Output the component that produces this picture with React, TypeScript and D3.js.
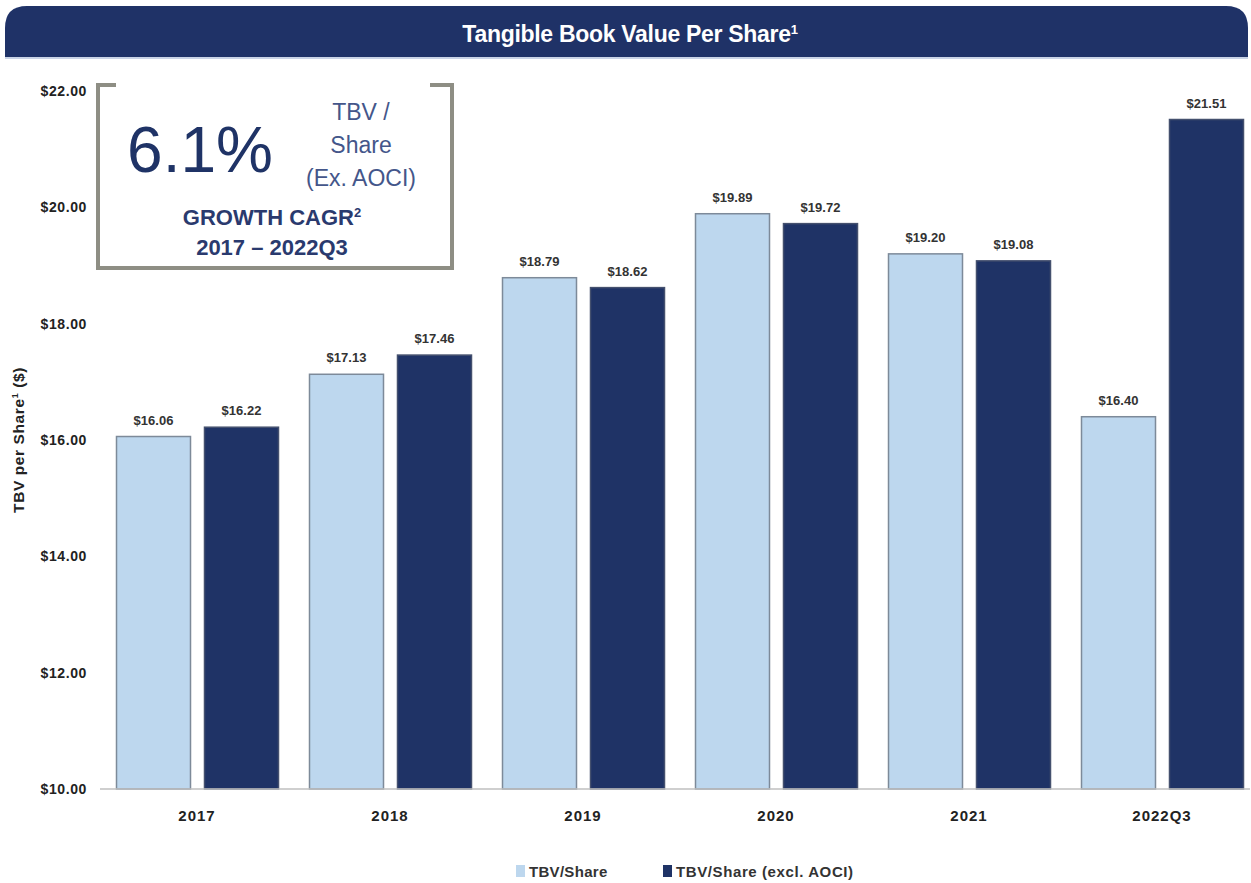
import React from "react";
import * as d3 from "d3";

const categories = ["2017", "2018", "2019", "2020", "2021", "2022Q3"];
const seriesNames = ["TBV/Share", "TBV/Share (excl. AOCI)"];
const tbvShare = [16.06, 17.13, 18.79, 19.89, 19.2, 16.4];
const tbvShareExAOCI = [16.22, 17.46, 18.62, 19.72, 19.08, 21.51];
const yTicks = [10, 12, 14, 16, 18, 20, 22];

const W = 1251;
const H = 883;
const LIGHT = "#bdd7ee";
const DARK = "#1f3366";
const NAVY = "#1f3267";
const narrow = "'Liberation Sans Narrow', 'Arial Narrow', 'Liberation Sans', Arial, sans-serif";
const sans = "'Liberation Sans', Arial, sans-serif";

export default function App() {
  const y = d3.scaleLinear().domain([10, 22]).range([789, 91]);
  const x0 = d3.scaleBand<string>().domain(categories).range([101.5, 1259.5]).paddingInner(0).paddingOuter(0);
  const x1 = d3.scaleBand<string>().domain(seriesNames).range([15, 177]).paddingInner(0.159).paddingOuter(0);
  const seriesValues = [tbvShare, tbvShareExAOCI];
  const colors = [LIGHT, DARK];
  const strokes = ["#7d8a99", "#44506e"];

  const r = 22;
  const hx0 = 5, hx1 = 1248, hy0 = 6, hy1 = 57;
  const headerPath = `M${hx0},${hy1} L${hx0},${hy0 + r} Q${hx0},${hy0} ${hx0 + r},${hy0} L${hx1 - r},${hy0} Q${hx1},${hy0} ${hx1},${hy0 + r} L${hx1},${hy1} Z`;

  return (
    <svg width={W} height={H} style={{ position: "absolute", left: 0, top: 0, background: "#fff" }}>
      <rect x={0} y={0} width={W} height={H} fill="#fff" />
      <path d={headerPath} fill={NAVY} />
      <line x1={hx0} x2={hx1} y1={hy1 + 1} y2={hy1 + 1} stroke="#c9d3e6" strokeWidth={2} />
      <text x={630} y={42} textAnchor="middle" fill="#fff" fontFamily={narrow} fontWeight="bold" fontSize={23} letterSpacing={-0.3}>
        Tangible Book Value Per Share<tspan fontSize={13} dy={-8}>1</tspan>
      </text>

      {/* y-axis tick labels */}
      {yTicks.map((t) => (
        <text key={t} x={87} y={y(t) + 5} textAnchor="end" fontFamily={narrow} fontWeight="bold" fontSize={14} letterSpacing={0.6} fill="#222">
          {d3.format("$.2f")(t)}
        </text>
      ))}
      <text transform={`translate(24,440) rotate(-90)`} textAnchor="middle" fontFamily={sans} fontWeight="bold" fontSize={15.5} letterSpacing={0.6} fill="#222">
        TBV per Share<tspan fontSize={9} dy={-6}>1</tspan><tspan dy={6}> ($)</tspan>
      </text>

      {/* bars */}
      {categories.map((c, i) => (
        <g key={c} transform={`translate(${x0(c)},0)`}>
          {seriesNames.map((s, j) => {
            const v = seriesValues[j][i];
            const bx = x1(s)!;
            const bw = x1.bandwidth();
            return (
              <g key={s}>
                <rect x={bx} y={y(v)} width={bw} height={y(10) - y(v)} fill={colors[j]} stroke={strokes[j]} strokeWidth={1.5} />
                <text x={bx + bw / 2} y={y(v) - 12} textAnchor="middle" fontFamily={narrow} fontWeight="bold" fontSize={13} fill="#333">
                  {d3.format("$.2f")(v)}
                </text>
              </g>
            );
          })}
          <text x={x0.bandwidth() / 2 - 1} y={821} textAnchor="middle" fontFamily={narrow} fontWeight="bold" fontSize={15} letterSpacing={1} fill="#222">
            {c}
          </text>
        </g>
      ))}
      <line x1={100} x2={1250} y1={y(10)} y2={y(10)} stroke="#bfbfbf" strokeWidth={1.5} />

      {/* CAGR box */}
      <g stroke="#8e8e84" strokeWidth={4} fill="none">
        <path d="M116,85 L98,85 L98,268 L452,268 L452,85 L430,85" />
      </g>
      <text x={200} y={172} textAnchor="middle" fontFamily={sans} fontSize={64} fill={DARK}>6.1%</text>
      <g fontFamily={sans} fontSize={23} fill="#44568a" textAnchor="middle">
        <text x={361} y={120}>TBV /</text>
        <text x={361} y={153}>Share</text>
        <text x={361} y={186}>(Ex. AOCI)</text>
      </g>
      <text x={272} y={225} textAnchor="middle" fontFamily={narrow} fontWeight="bold" fontSize={22} fill="#2a3a6e">
        GROWTH CAGR<tspan fontSize={13} dy={-8}>2</tspan>
      </text>
      <text x={272} y={255} textAnchor="middle" fontFamily={narrow} fontWeight="bold" fontSize={22} fill="#2a3a6e">
        2017 – 2022Q3
      </text>

      {/* legend */}
      <rect x={516} y={865} width={9} height={12} fill={LIGHT} />
      <text x={529} y={877} fontFamily={narrow} fontWeight="bold" fontSize={15} letterSpacing={0.3} fill="#333">TBV/Share</text>
      <rect x={663} y={865} width={9} height={12} fill={DARK} />
      <text x={676} y={877} fontFamily={narrow} fontWeight="bold" fontSize={15} letterSpacing={0.6} fill="#333">TBV/Share (excl. AOCI)</text>
    </svg>
  );
}
